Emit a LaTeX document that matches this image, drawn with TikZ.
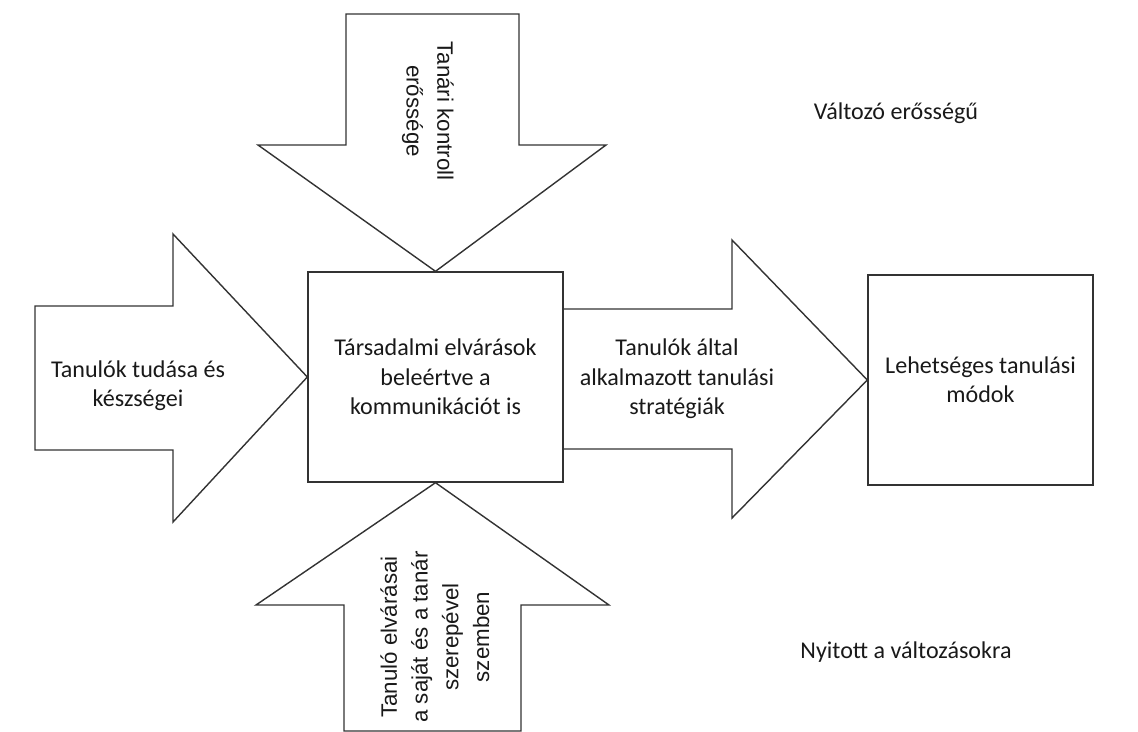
\documentclass[tikz,border=0pt]{standalone}
\usepackage{fontspec}
\setmainfont{Carlito}
\newfontfamily\rotfont{Liberation Sans}
\usepackage{xcolor}
\usetikzlibrary{positioning}
\usetikzlibrary{calc}

\begin{document}
\begin{tikzpicture}[x=0.02cm,y=-0.02cm,
                    main node/.style={rectangle,draw=black!80,line width=0.8pt,inner sep=0pt,
                      align=center,text=black!90,font=\fontsize{13.7}{16.7}\selectfont},
                    big arrow/.style={draw=black!80,line width=0.8pt,line join=miter},
                    plain text/.style={align=center,text=black!90,font=\fontsize{13.7}{16.7}\selectfont},
                    rot text/.style={align=center,text=black!90,font=\rotfont\fontsize{12.7}{17.5}\selectfont}]
      \useasboundingbox (0,0) rectangle (1138,731);

      \node[main node, minimum width=5.1cm, minimum height=4.2cm] (1) at (435.5,377)
        {Társadalmi elvárások\\beleértve a\\kommunikációt is};
      \node[main node, minimum width=4.5cm, minimum height=4.2cm] (2) at (980.5,380)
        {Lehetséges tanulási\\módok};

      % the four big arrows
      \draw[big arrow] (1.north) -- (258,145) -- (346,145) -- (346,14)
        -- (519,14) -- (519,145) -- (606,145) -- cycle;
      \draw[big arrow] (1.south) -- (609,605) -- (521,605) -- (521,731)
        -- (344,731) -- (344,605) -- (256,605) -- cycle;
      \draw[big arrow] (1.west) -- (173,234) -- (173,306) -- (35,306)
        -- (35,450) -- (173,450) -- (173,522) -- cycle;
      \draw[big arrow] (1.east |- 0,309) -- (732,309) -- (732,240) -- (2.west)
        -- (732,518) -- (732,449) -- (1.east |- 0,449);

      \node[rot text, rotate=-90] (3) at (428,111) {Tanári kontroll\\erőssége};
      \node[rot text, rotate=90] (4) at (435,637)
        {Tanuló elvárásai\\a saját és a tanár\\szerepével\\szemben};
      \node[plain text] (5) at (138,386) {Tanulók tudása és\\készségei};
      \node[plain text] (6) at (677,379) {Tanulók által\\alkalmazott tanulási\\stratégiák};
      \node[plain text] (7) at (896,113) {Változó erősségű};
      \node[plain text] (8) at (906,652) {Nyitott a változásokra};

\end{tikzpicture}
\end{document}
